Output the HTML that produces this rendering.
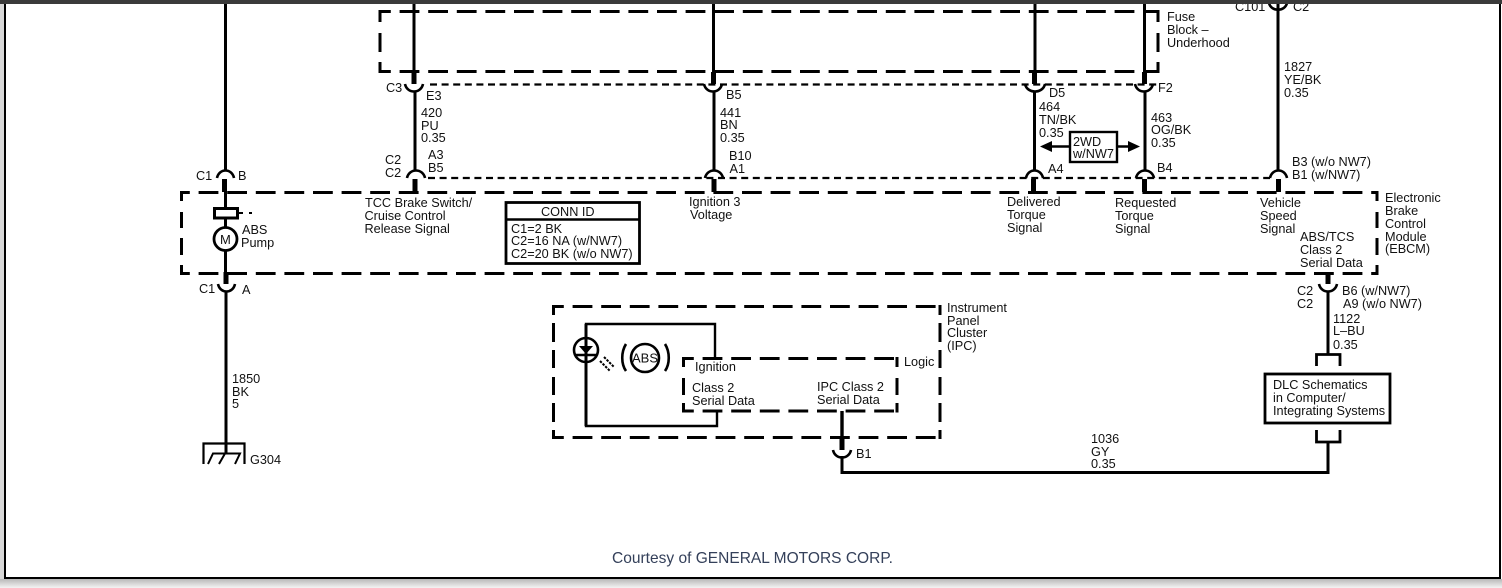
<!DOCTYPE html>
<html><head><meta charset="utf-8"><style>
html,body{margin:0;padding:0;background:#fff;width:1502px;height:588px;overflow:hidden}
svg{display:block}
text{font-family:"Liberation Sans",sans-serif;font-size:12.7px;fill:#111}
.w{fill:none;stroke:#000;stroke-width:3}
.t{fill:none;stroke:#000;stroke-width:5}
.a{fill:none;stroke:#000;stroke-width:2.6}
.d{fill:none;stroke:#000;stroke-width:3;stroke-dasharray:19.8 8.8;stroke-dashoffset:9}
.v{fill:none;stroke:#000;stroke-width:3}
.o{fill:none;stroke:#000;stroke-width:2.2;stroke-dasharray:7 4.6}
.b{filter:blur(.3px)}
</style></head><body>
<svg width="1502" height="588" viewBox="0 0 1502 588" xmlns="http://www.w3.org/2000/svg">
<defs><linearGradient id="g" x1="0" y1="0" x2="0" y2="1"><stop offset="0" stop-color="#b8b8b8"/><stop offset="1" stop-color="#f4f4f4"/></linearGradient></defs>
<rect width="1502" height="588" fill="#fff"/>
<rect x="0" y="0" width="4" height="588" fill="#d8d8d8"/>
<rect x="0" y="579" width="1502" height="9" fill="url(#g)"/>
<rect x="5" y="3" width="1495" height="575" fill="#fff" stroke="#000" stroke-width="2"/>

<g class="b">
<!-- dashed boxes -->
<path class="d" d="M380 11.500H1159.500M380 71.500H1159.500"/>
<path class="v" d="M380 10V22M380 33V52M380 62V73M1158 10V22M1158 33V52M1158 62V73"/>
<path class="d" style="stroke-dashoffset:11" d="M181 192.500H1378.500M181 273.500H1378.500"/>
<path class="v" d="M181.500 191V201M181.500 212V228M181.500 238V255M181.500 265V275M1377 191V201M1377 212V228M1377 238V255M1377 265V275"/>
<path class="d" d="M553 306.500H941.500M553 437.500H941.500"/>
<path class="v" d="M553.500 305V315M553.500 323V342M553.500 350V368M553.500 377V395M553.500 403V422M553.500 430V439M940 305V315M940 323V342M940 350V368M940 377V395M940 403V422M940 430V439"/>
<path class="d" d="M683 358.500H898.500M683 411H898.500"/>
<path class="v" d="M683.500 357V367M683.500 378V395M683.500 403V412.500M897 357V367M897 378V395M897 403V412.500"/>
<path class="o" d="M430 84.500H1158"/>
<path class="o" d="M428 178H1270"/>

<!-- left wire -->
<path class="w" d="M225.500 4V170M225.500 179V208M225.500 218V228M225.500 250V284M226 292V453"/>
<path class="t" d="M224.500 179V192M226 272V284"/>
<path class="a" d="M217 178C219 168 232 168 234 178M218 284C220 294 233 294 235 284"/>
<rect x="214.500" y="208.500" width="23" height="9.500" fill="#fff" stroke="#000" stroke-width="3"/>
<path d="M238 213H243M249 213H252" stroke="#000" stroke-width="2" fill="none"/>
<circle cx="225.500" cy="239" r="11.500" fill="#fff" stroke="#000" stroke-width="2.800"/>
<text x="220" y="244" style="font-size:13px">M</text>
<path d="M203.500 464V443.500H244.500V464" fill="none" stroke="#000" stroke-width="2.200"/>
<path d="M208 464L213 453.500H240L235 464M219 464L225 453.500" fill="none" stroke="#000" stroke-width="2"/>

<!-- signal wires -->
<path class="w" d="M414 4V72M415 92V170"/>
<path class="t" d="M414 72V84M415 179V192"/>
<path class="a" d="M405 84C407 94 421 94 423 84M407 178C409 168 423 168 425 178"/>

<path class="w" d="M713.500 4V72M714 92V170"/>
<path class="t" d="M713.500 72V84M714 179V192"/>
<path class="a" d="M704 84C706 94 720 94 722 84M705 178C707 168 721 168 723 178"/>

<path class="w" d="M1035 4V72M1034.500 92V170"/>
<path class="t" d="M1034.500 72V84M1033.500 179V192"/>
<path class="a" d="M1025 84C1027 94 1043 94 1045 84M1026 178C1028 168 1041 168 1043 178"/>

<path class="w" d="M1144.500 4V72M1145 92V170"/>
<path class="t" d="M1144.500 72V84M1144.500 179V192"/>
<path class="a" d="M1135 84C1137 94 1151 94 1153 84M1136 178C1138 168 1152 168 1154 178"/>

<path class="w" d="M1278 4V170"/>
<path class="t" d="M1278.500 179V192"/>
<path class="a" d="M1269 3C1271 12 1285 12 1287 3M1270 178C1272 168 1285 168 1287 178"/>

<text x="1235" y="11">C101</text>
<text x="1293" y="11">C2</text>
</g>
<rect x="0" y="0" width="1502" height="4" fill="#3a3a3a"/>

<g class="b">
<!-- connector to DLC -->
<path class="t" d="M1328 273V284"/>
<path class="a" d="M1319 284C1321 294 1335 294 1337 284"/>
<path class="w" d="M1328 292V354"/>
<path d="M1316.500 366V354.500H1340V366" fill="none" stroke="#000" stroke-width="2.800"/>
<rect x="1265" y="374" width="125" height="49" fill="#fff" stroke="#000" stroke-width="2.800"/>
<path d="M1316.500 430V442H1340V430" fill="none" stroke="#000" stroke-width="2.800"/>
<path class="w" d="M1328 442V472.500H842V456"/>

<!-- IPC internals -->
<path class="t" d="M842 437V450"/>
<path class="a" d="M833 450C835 460 849 460 851 450"/>
<path d="M842 411V437" class="w" style="stroke-width:3.400"/>
<path d="M715 358V324H586V426H717V411" fill="none" stroke="#000" stroke-width="2.400"/>
<path d="M586 324V426" stroke="#000" stroke-width="3"/>
<circle cx="586" cy="350" r="12" fill="none" stroke="#000" stroke-width="2.600"/>
<path d="M579 346H593L586 354Z" fill="#000"/>
<path d="M576 355H596" stroke="#000" stroke-width="2.400"/>
<path d="M604 357L614 367M600 361L610 371" stroke="#000" stroke-width="2" stroke-dasharray="2.500 1.200" fill="none"/>
<circle cx="645" cy="358" r="14" fill="none" stroke="#000" stroke-width="2.600"/>
<text x="632" y="362.500" style="font-size:13px">ABS</text>
<path d="M626 344C621 352 621 364 626 371M665 344C670 352 670 364 665 371" fill="none" stroke="#000" stroke-width="2.600"/>

<!-- CONN ID -->
<rect x="506" y="202.500" width="133.500" height="61" fill="#fff" stroke="#000" stroke-width="2.800"/>
<path d="M506 219.500H639" stroke="#000" stroke-width="2.400"/>

<!-- 2WD -->
<rect x="1070" y="132" width="47" height="30" fill="#fff" stroke="#000" stroke-width="2.400"/>
<path d="M1050 146.500H1070M1117 146.500H1130" stroke="#000" stroke-width="2.400"/>
<path d="M1040 146.500L1052 141V152Z M1140 146.500L1128 141V152Z" fill="#000"/>

<!-- labels -->
<text x="196" y="180">C1</text><text x="238" y="180">B</text>
<text x="199" y="293">C1</text><text x="242" y="294">A</text>
<text x="242" y="234">ABS</text><text x="241" y="247">Pump</text>
<text x="232" y="383">1850</text><text x="232" y="396">BK</text><text x="232" y="408">5</text>
<text x="250" y="464">G304</text>

<text x="386" y="92">C3</text><text x="426" y="100">E3</text>
<text x="421" y="117">420</text><text x="421" y="130">PU</text><text x="421" y="142">0.35</text>
<text x="385" y="164">C2</text><text x="385" y="177">C2</text>
<text x="428" y="159">A3</text><text x="428" y="172">B5</text>
<text x="365" y="207">TCC Brake Switch/</text><text x="364.500" y="220">Cruise Control</text><text x="364.500" y="233">Release Signal</text>

<text x="726" y="99">B5</text>
<text x="720" y="117">441</text><text x="720" y="129">BN</text><text x="720" y="142">0.35</text>
<text x="729" y="160">B10</text><text x="729.500" y="173">A1</text>
<text x="689" y="206">Ignition 3</text><text x="690" y="219">Voltage</text>

<text x="541" y="216">CONN ID</text>
<text x="511" y="233">C1=2 BK</text><text x="511" y="245">C2=16 NA (w/NW7)</text><text x="511" y="258">C2=20 BK (w/o NW7)</text>

<text x="1049" y="97">D5</text>
<text x="1039" y="111">464</text><text x="1039" y="124">TN/BK</text><text x="1039" y="137">0.35</text>
<text x="1048" y="173">A4</text>
<text x="1158" y="92">F2</text>
<text x="1151" y="122">463</text><text x="1151" y="134">OG/BK</text><text x="1151" y="147">0.35</text>
<text x="1157" y="172">B4</text>
<text x="1073" y="146">2WD</text><text x="1073" y="158">w/NW7</text>

<text x="1284" y="71">1827</text><text x="1284" y="84">YE/BK</text><text x="1284" y="97">0.35</text>
<text x="1292" y="166">B3 (w/o NW7)</text><text x="1292" y="179">B1 (w/NW7)</text>

<text x="1167" y="21">Fuse</text><text x="1167" y="34">Block –</text><text x="1167" y="47">Underhood</text>

<text x="1007" y="206">Delivered</text><text x="1007" y="219">Torque</text><text x="1007" y="232">Signal</text>
<text x="1115" y="207">Requested</text><text x="1115" y="220">Torque</text><text x="1115" y="233">Signal</text>
<text x="1260" y="207">Vehicle</text><text x="1260" y="220">Speed</text><text x="1260" y="233">Signal</text>
<text x="1300" y="241">ABS/TCS</text><text x="1300" y="254">Class 2</text><text x="1300" y="267">Serial Data</text>
<text x="1385" y="202">Electronic</text><text x="1385" y="215">Brake</text><text x="1385" y="228">Control</text><text x="1385" y="241">Module</text><text x="1385" y="253">(EBCM)</text>

<text x="1297" y="295">C2</text><text x="1297" y="308">C2</text>
<text x="1342" y="295">B6 (w/NW7)</text><text x="1343" y="308">A9 (w/o NW7)</text>
<text x="1333" y="323">1122</text><text x="1333" y="335">L–BU</text><text x="1333" y="349">0.35</text>
<text x="1273" y="389">DLC Schematics</text><text x="1273" y="402">in Computer/</text><text x="1273" y="415">Integrating Systems</text>
<text x="1091" y="443">1036</text><text x="1091" y="456">GY</text><text x="1091" y="468">0.35</text>

<text x="947" y="312">Instrument</text><text x="947" y="325">Panel</text><text x="947" y="337">Cluster</text><text x="947" y="350">(IPC)</text>
<text x="904" y="366">Logic</text>
<text x="695" y="371">Ignition</text>
<text x="692" y="392">Class 2</text><text x="692" y="405">Serial Data</text>
<text x="817" y="391">IPC Class 2</text><text x="817" y="404">Serial Data</text>
<text x="856" y="458">B1</text>
</g>

<text x="612" y="563" textLength="281" lengthAdjust="spacingAndGlyphs" style="font-size:16px;fill:#34405a">Courtesy of GENERAL MOTORS CORP.</text>
</svg>
</body></html>
